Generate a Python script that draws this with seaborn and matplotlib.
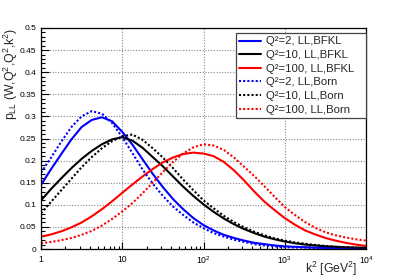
import numpy as np
import pandas as pd
import matplotlib
matplotlib.use("Agg")
import matplotlib.pyplot as plt
import matplotlib.ticker as mticker
import seaborn as sns

k2 = [1.0, 1.334, 1.778, 2.371, 3.162, 4.217, 5.623, 7.499, 10.0, 13.34, 17.78, 23.71, 31.62,
      42.17, 56.23, 74.99, 100.0, 133.4, 177.8, 237.1, 316.2, 421.7, 562.3, 749.9, 1000.0,
      1334.0, 1778.0, 2371.0, 3162.0, 4217.0, 5623.0, 7499.0, 10000.0]

bfkl_q2_2 = [0.145, 0.181, 0.215, 0.248, 0.276, 0.292, 0.298, 0.289, 0.265, 0.236, 0.203, 0.170, 0.140,
             0.113, 0.090, 0.070, 0.054, 0.042, 0.032, 0.025, 0.019, 0.014, 0.011, 0.008, 0.006,
             0.005, 0.004, 0.003, 0.0025, 0.002, 0.0018, 0.0015, 0.0012]
bfkl_q2_10 = [0.110, 0.136, 0.160, 0.183, 0.204, 0.222, 0.237, 0.248, 0.253, 0.245, 0.229, 0.208, 0.187,
              0.164, 0.141, 0.120, 0.101, 0.084, 0.069, 0.056, 0.045, 0.036, 0.028, 0.022, 0.017,
              0.013, 0.010, 0.008, 0.006, 0.005, 0.004, 0.003, 0.002]
bfkl_q2_100 = [0.028, 0.033, 0.040, 0.049, 0.060, 0.074, 0.090, 0.108, 0.127, 0.146, 0.164, 0.181, 0.196,
               0.207, 0.215, 0.218, 0.216, 0.210, 0.197, 0.178, 0.155, 0.130, 0.107, 0.088, 0.070,
               0.055, 0.042, 0.033, 0.025, 0.019, 0.014, 0.010, 0.007]
born_q2_2 = [0.173, 0.207, 0.243, 0.276, 0.300, 0.312, 0.306, 0.285, 0.253, 0.217, 0.180, 0.148, 0.120,
             0.096, 0.077, 0.060, 0.047, 0.036, 0.028, 0.021, 0.016, 0.011, 0.008, 0.006, 0.004,
             0.0035, 0.003, 0.0025, 0.002, 0.0015, 0.001, 0.001, 0.001]
born_q2_10 = [0.081, 0.107, 0.133, 0.159, 0.185, 0.208, 0.228, 0.244, 0.255, 0.259, 0.247, 0.228, 0.207,
              0.183, 0.157, 0.133, 0.110, 0.092, 0.075, 0.061, 0.049, 0.039, 0.031, 0.024, 0.019,
              0.015, 0.012, 0.009, 0.007, 0.005, 0.004, 0.003, 0.003]
born_q2_100 = [0.013, 0.016, 0.020, 0.025, 0.032, 0.041, 0.053, 0.068, 0.085, 0.104, 0.126, 0.150, 0.174,
               0.197, 0.216, 0.230, 0.237, 0.234, 0.224, 0.207, 0.186, 0.165, 0.142, 0.118, 0.095,
               0.077, 0.061, 0.048, 0.038, 0.031, 0.026, 0.022, 0.019]

series_labels = ["Q²=2, LL,BFKL", "Q²=10, LL,BFKL", "Q²=100, LL,BFKL",
                 "Q²=2, LL,Born", "Q²=10, LL,Born", "Q²=100, LL,Born"]
series_values = [bfkl_q2_2, bfkl_q2_10, bfkl_q2_100, born_q2_2, born_q2_10, born_q2_100]
series_colors = ["#0000ff", "#000000", "#ff0000", "#0000ff", "#000000", "#ff0000"]
series_styles = ["-", "-", "-", (0, (1, 1)), (0, (1, 1)), (0, (1, 1))]

x_ticks = [1, 10, 100, 1000, 10000]
x_ticklabels = ["1", "10", "$10^{2}$", "$10^{3}$", "$10^{4}$"]
y_ticks = [0, 0.05, 0.1, 0.15, 0.2, 0.25, 0.3, 0.35, 0.4, 0.45, 0.5]
y_ticklabels = ["0", "0.05", "0.1", "0.15", "0.2", "0.25", "0.3", "0.35", "0.4", "0.45", "0.5"]

# ---- style ----
sns.set_style("ticks")
plt.rcParams["font.family"] = ["Liberation Sans", "DejaVu Sans"]
plt.rcParams["mathtext.fontset"] = "custom"
plt.rcParams["mathtext.rm"] = "Liberation Sans"
plt.rcParams["mathtext.it"] = "Liberation Sans:italic"
plt.rcParams["mathtext.bf"] = "Liberation Sans:bold"

fig = plt.figure(figsize=(4.07, 2.77), dpi=100)
ax = fig.add_axes([41 / 407, 1 - 249 / 277, 325 / 407, 221 / 277])

for lab, vals, col, ls in zip(series_labels, series_values, series_colors, series_styles):
    df = pd.DataFrame({"k2": k2, "p": vals})
    sns.lineplot(data=df, x="k2", y="p", color=col, linestyle=ls, linewidth=1.5,
                 label=lab, ax=ax, estimator=None)

ax.set_xscale("log")
ax.set_xlim(1, 10000)
ax.set_ylim(0, 0.5)

ax.xaxis.set_major_locator(mticker.FixedLocator(x_ticks))
ax.xaxis.set_major_formatter(mticker.FixedFormatter(x_ticklabels))
ax.xaxis.set_minor_locator(mticker.LogLocator(base=10, subs=np.arange(2, 10)))
ax.xaxis.set_minor_formatter(mticker.NullFormatter())
ax.yaxis.set_major_locator(mticker.FixedLocator(y_ticks))
ax.yaxis.set_major_formatter(mticker.FixedFormatter(y_ticklabels))
ax.yaxis.set_minor_locator(mticker.MultipleLocator(0.01))

ax.tick_params(axis="both", which="both", direction="in", top=False, right=False, colors="black")
ax.tick_params(axis="x", which="major", length=5, width=0.8, pad=4, labelsize=6.2)
ax.tick_params(axis="x", which="minor", length=2.5, width=0.8)
ax.tick_params(axis="y", which="major", length=5.5, width=0.8, pad=3.5, labelsize=6.0)
ax.tick_params(axis="y", which="minor", length=2.8, width=0.8)

ax.grid(True, which="major", color="#888888", linestyle=(0, (1, 1.5)), linewidth=0.8)
for s in ax.spines.values():
    s.set_visible(True)
    s.set_color("black")
    s.set_linewidth(0.9)

ax.set_xlabel("k$^{2}$ [GeV$^{2}$]", fontsize=8.8, loc="right")
ax.xaxis.set_label_coords(0.975, -0.05)
ax.set_ylabel("p$_{\\mathrm{LL}}$ (W,Q$^{2}$,Q$^{2}$,k$^{2}$)", fontsize=8.8, loc="top")
ax.yaxis.set_label_coords(-0.066, 1.0)

leg = ax.legend(loc="upper left", bbox_to_anchor=(0.6, 0.5, 0.4, 0.477), mode="expand",
                fontsize=8.2, frameon=True, fancybox=False, shadow=False, framealpha=1.0,
                edgecolor="#444444", borderpad=0.3, labelspacing=0.32,
                handlelength=1.93, handletextpad=0.44, borderaxespad=0.0)
leg.get_frame().set_linewidth(0.9)

fig.savefig("out.png", dpi=100)
